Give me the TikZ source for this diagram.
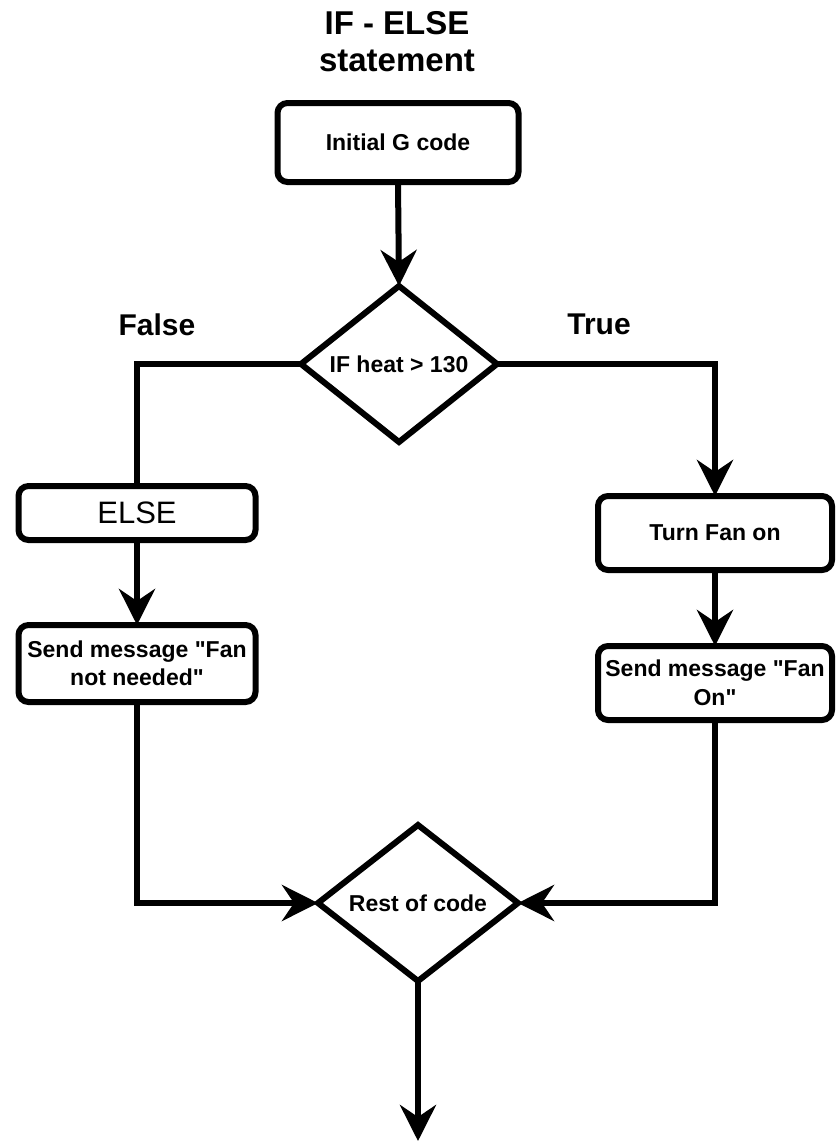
\documentclass[tikz,border=0pt]{standalone}
\usepackage{fontspec}
\setmainfont{Liberation Sans}[Ligatures=TeXOff]
\usetikzlibrary{arrows.meta,shapes.geometric}
\newcommand\bodyfnt{\fontsize{23}{28.5}\selectfont\bfseries}
\begin{document}
\begin{tikzpicture}[x=1pt,y=-1pt,
  line width=6pt,
  box/.style={draw, rounded corners=10pt, fill=white, inner sep=0pt, outer sep=0pt, font=\bodyfnt, align=center},
  dec/.style={draw, diamond, fill=white, inner sep=0pt, outer sep=0pt, font=\bodyfnt, line join=miter},
  arr/.style={-{Stealth[length=36pt,width=36pt,inset=12pt]}},
  lbl/.style={font=\fontsize{30}{36}\selectfont\bfseries, inner sep=0pt}]
\fill[white] (0,0) rectangle (836,1144);
\useasboundingbox (0,0) rectangle (836,1144);

\node[align=center, inner sep=0pt, font=\fontsize{33}{37}\selectfont\bfseries] (title) at (397,42) {IF - ELSE\\statement};

\node[box, minimum width=241pt, minimum height=79pt] (init) at (398,142.5) {Initial G code};
\node[dec, minimum width=196pt, minimum height=156pt] (d1) at (399,364) {IF heat > 130};

\node[lbl] (false) at (157,325) {False};
\node[lbl] (true) at (599,324) {True};

\node[box, minimum width=237pt, minimum height=54pt, font=\fontsize{31}{36}\selectfont] (else) at (137,513) {ELSE};
\node[box, minimum width=237pt, minimum height=77pt] (sendl) at (137,663.5) {Send message "Fan\\not needed"};

\node[box, minimum width=234pt, minimum height=74pt] (turn) at (715,533) {Turn Fan on};
\node[box, minimum width=234pt, minimum height=74pt] (sendr) at (715,683) {Send message "Fan\\On"};

\node[dec, minimum width=200pt, minimum height=156pt] (d2) at (418,903) {Rest of code};
\coordinate (out) at (418,1141);

\draw[arr] (init.south) -- (d1.north);
\draw (d1.west) -| (else.north);
\draw[arr] (else.south) -- (sendl.north);
\draw[arr] (sendl.south) |- (d2.west);
\draw[arr] (d1.east) -| (turn.north);
\draw[arr] (turn.south) -- (sendr.north);
\draw[arr] (sendr.south) |- (d2.east);
\draw[arr] (d2.south) -- (out);
\end{tikzpicture}
\end{document}
